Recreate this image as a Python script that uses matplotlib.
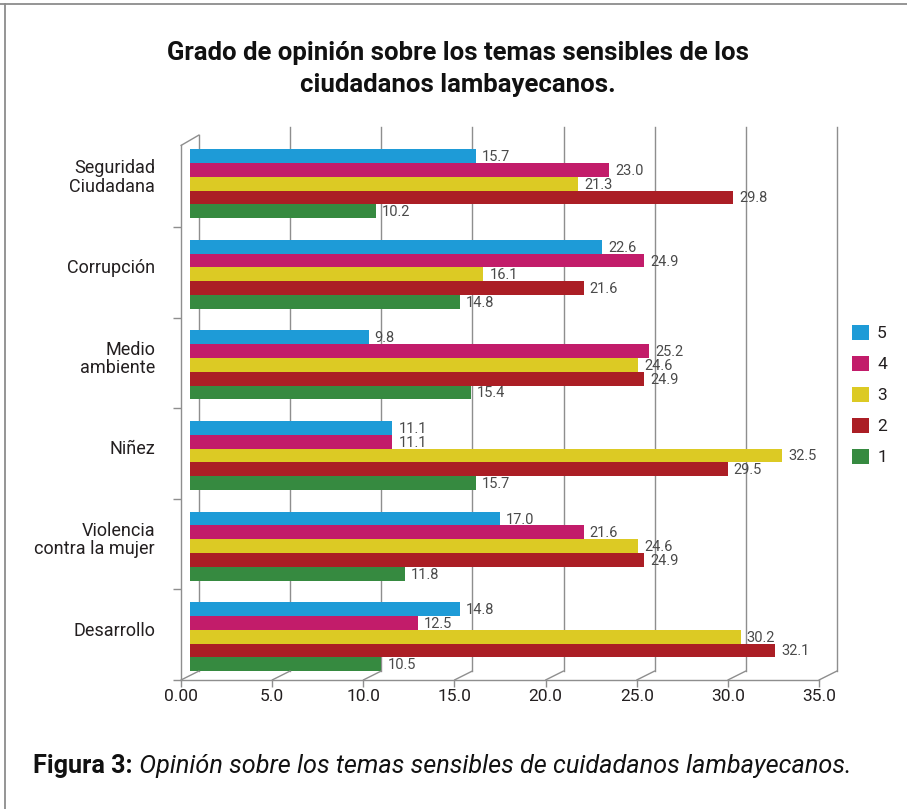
import matplotlib
matplotlib.use("Agg")
import matplotlib.pyplot as plt
from matplotlib.patches import Patch, ConnectionPatch
from matplotlib.lines import Line2D
from matplotlib.transforms import offset_copy

# ------------------------------------------------------------
# Data
# ------------------------------------------------------------
categories = ["Seguridad\nCiudadana", "Corrupción", "Medio\nambiente",
              "Niñez", "Violencia\ncontra la mujer", "Desarrollo"]
series_names = ["5", "4", "3", "2", "1"]
series_colors = ["#1e9bd7", "#c21c6a", "#dcca24", "#ab1e25", "#368a40"]

val_5 = [15.7, 22.6, 9.8, 11.1, 17.0, 14.8]
val_4 = [23.0, 24.9, 25.2, 11.1, 21.6, 12.5]
val_3 = [21.3, 16.1, 24.6, 32.5, 24.6, 30.2]
val_2 = [29.8, 21.6, 24.9, 29.5, 24.9, 32.1]
val_1 = [10.2, 14.8, 15.4, 15.7, 11.8, 10.5]
series_values = [val_5, val_4, val_3, val_2, val_1]

x_ticks = [0, 5, 10, 15, 20, 25, 30, 35]
x_ticklabels = ["0.00", "5.0", "10.0", "15.0", "20.0", "25.0", "30.0", "35.0"]

title = "Grado de opinión sobre los temas sensibles de los\nciudadanos lambayecanos."
caption_bold = "Figura 3:"
caption_italic = " Opinión sobre los temas sensibles de cuidadanos lambayecanos."

# ------------------------------------------------------------
# Figure / axes (back wall plane)
# ------------------------------------------------------------
plt.rcParams['font.family'] = ['Roboto', 'DejaVu Sans']
W, H = 907, 809
fig = plt.figure(figsize=(W / 100, H / 100), dpi=100)
ax = fig.add_axes([199 / W, 1 - 671 / H, (837 - 199) / W, (671 - 127.4) / H])
ax.set_xlim(0, 35)
ax.set_ylim(6, 0)
ax.axis("off")

grid_c = "#8e8e8e"
text_c = "#231f20"
label_c = "#4a4a4a"

front_tr = offset_copy(ax.transData, fig=fig, x=-18, y=-9, units="dots")
bar_tr = offset_copy(ax.transData, fig=fig, x=-9, y=-11, units="dots")

# back gridlines
for t in x_ticks:
    top = 0.084 if t == 0 else 0
    ax.plot([t, t], [top, 6], color=grid_c, lw=1.0, zorder=1, clip_on=False)

# floor diagonals from front to back
for t in x_ticks:
    cp = ConnectionPatch(xyA=(t, 6), coordsA=front_tr, xyB=(t, 6), coordsB=ax.transData,
                         color=grid_c, lw=1.0, zorder=1)
    fig.add_artist(cp)

# front axis lines
ax.plot([0, 35], [6, 6], color=grid_c, lw=1.0, transform=front_tr, clip_on=False)
ax.plot([0, 0], [0.1, 6], color=grid_c, lw=1.0, transform=front_tr, clip_on=False)
fig.add_artist(ConnectionPatch(xyA=(0, 0.1), coordsA=front_tr, xyB=(0, 0.084),
                               coordsB=ax.transData, color=grid_c, lw=1.0))
ax.plot(x_ticks, [6] * len(x_ticks), linestyle="none", marker=3, markersize=5,
        mew=1.0, color=grid_c, transform=front_tr, clip_on=False)
ax.plot([0] * 6, [1, 2, 3, 4, 5, 6], linestyle="none", marker=0, markersize=6,
        mew=1.0, color=grid_c, transform=front_tr, clip_on=False)

# tick labels
for t, lab in zip(x_ticks, x_ticklabels):
    ax.annotate(lab, xy=(t, 6), xycoords=front_tr, xytext=(0, -9),
                textcoords="offset pixels", ha="center", va="top",
                fontsize=12.5, color=text_c, annotation_clip=False)

# category labels
for i, cat in enumerate(categories):
    ax.annotate(cat, xy=(0, i + 0.5), xycoords=front_tr, xytext=(-26, 4),
                textcoords="offset pixels", ha="right", va="center",
                multialignment="right", fontsize=13, color=text_c,
                linespacing=1.05, annotation_clip=False)

# bars
bar_h = 0.152
for j, (vals, col) in enumerate(zip(series_values, series_colors)):
    ys = [i + 0.5 - 2.5 * bar_h + (j + 0.5) * bar_h for i in range(len(categories))]
    ax.barh(ys, vals, height=bar_h, color=col, transform=bar_tr, zorder=3,
            clip_on=False)
    for y, v in zip(ys, vals):
        ax.annotate(f"{v:.1f}", xy=(v, y), xycoords=bar_tr, xytext=(6, -1),
                    textcoords="offset pixels", ha="left", va="center",
                    fontsize=10.5, color=label_c, annotation_clip=False, zorder=4)

# legend
handles = [Patch(facecolor=c, edgecolor="none", label=n)
           for n, c in zip(series_names, series_colors)]
fig.legend(handles=handles, loc="center left", bbox_to_anchor=(852 / W, 1 - 395 / H),
           frameon=False, fontsize=12.5, handlelength=1.0, handleheight=1.0,
           handletextpad=0.45, labelspacing=0.82, borderpad=0, borderaxespad=0,
           labelcolor=text_c)

# title
fig.text(458 / W, 1 - 69 / H, title, ha="center", va="center", fontsize=18.5,
         fontweight="bold", color="#111111", linespacing=1.45)

# caption
t = fig.text(33 / W, 1 - 766 / H, caption_bold, ha="left", va="center",
             fontsize=18.2, fontweight="bold", color="#111111")
ax.annotate(caption_italic, xy=(1, 0), xycoords=t, ha="left", va="bottom",
            fontsize=18.2, style="italic", color="#111111", annotation_clip=False)

# frame
fig.add_artist(Line2D([0, 1], [1 - 3.5 / H] * 2, transform=fig.transFigure,
                      color="#8c8c8c", lw=1.3))
fig.add_artist(Line2D([4.5 / W] * 2, [0, 1 - 3.5 / H], transform=fig.transFigure,
                      color="#8c8c8c", lw=1.3))

fig.savefig("out.png", dpi=100, facecolor="white")
